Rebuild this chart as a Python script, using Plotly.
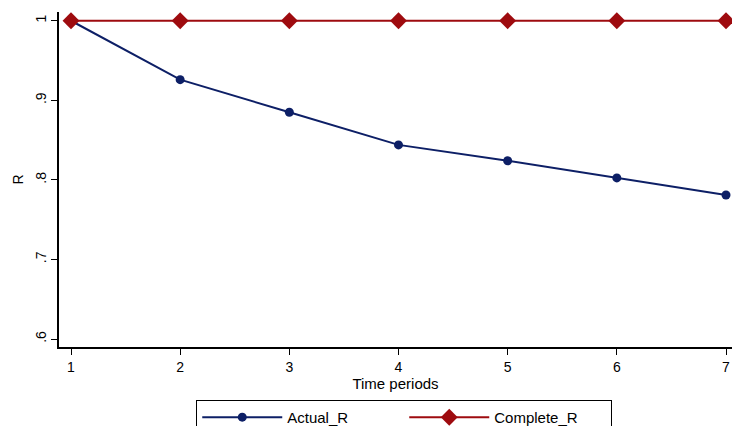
import plotly.graph_objects as go

periods = [1, 2, 3, 4, 5, 6, 7]
actual_r = [1.0, 0.926, 0.885, 0.844, 0.824, 0.8025, 0.781]
complete_r = [1.0, 1.0, 1.0, 1.0, 1.0, 1.0, 1.0]
y_tickvals = [0.6, 0.7, 0.8, 0.9, 1.0]
y_ticktext = [".6", ".7", ".8", ".9", "1"]

navy = "#0d1f66"
maroon = "#9e0b0f"

fig = go.Figure()
fig.add_trace(go.Scatter(x=periods, y=actual_r, mode="lines+markers", name="Actual_R",
                         line=dict(color=navy, width=2),
                         marker=dict(symbol="circle", size=9, color=navy)))
fig.add_trace(go.Scatter(x=periods, y=complete_r, mode="lines+markers", name="Complete_R",
                         line=dict(color=maroon, width=2),
                         marker=dict(symbol="diamond", size=13, color=maroon)))

font = dict(family="Liberation Sans, Arial, sans-serif", size=14, color="black")

fig.update_layout(
    width=734, height=426,
    margin=dict(l=59, r=2, t=12, b=79, autoexpand=False),
    paper_bgcolor="white", plot_bgcolor="white",
    font=font,
    showlegend=True,
    legend=dict(orientation="h", x=0.513, xanchor="center", y=-0.158, yanchor="top",
                bordercolor="black", borderwidth=1, font=dict(size=15),
                itemwidth=80, entrywidth=112, entrywidthmode="pixels", tracegroupgap=0),
    xaxis=dict(range=[0.89, 7.055], tickvals=periods, ticks="outside", ticklen=6,
               tickcolor="black", showline=True, linecolor="black", linewidth=1.5,
               showgrid=False, zeroline=False, mirror=False, automargin=False,
               tickfont=dict(size=14),
               title=dict(text="Time periods", standoff=2, font=dict(size=15))),
    yaxis=dict(range=[0.59, 1.011], tickvals=y_tickvals, ticktext=y_ticktext,
               tickangle=-90, ticks="outside", ticklen=6, tickcolor="black",
               showline=True, linecolor="black", linewidth=1.5, automargin=False,
               showgrid=False, zeroline=False, tickfont=dict(size=14),
               title=dict(text="R", standoff=6, font=dict(size=14))),
)

fig.write_html("out.html", config={"displayModeBar": False},
               post_script="document.body.style.margin='0';document.body.style.overflow='hidden';")
